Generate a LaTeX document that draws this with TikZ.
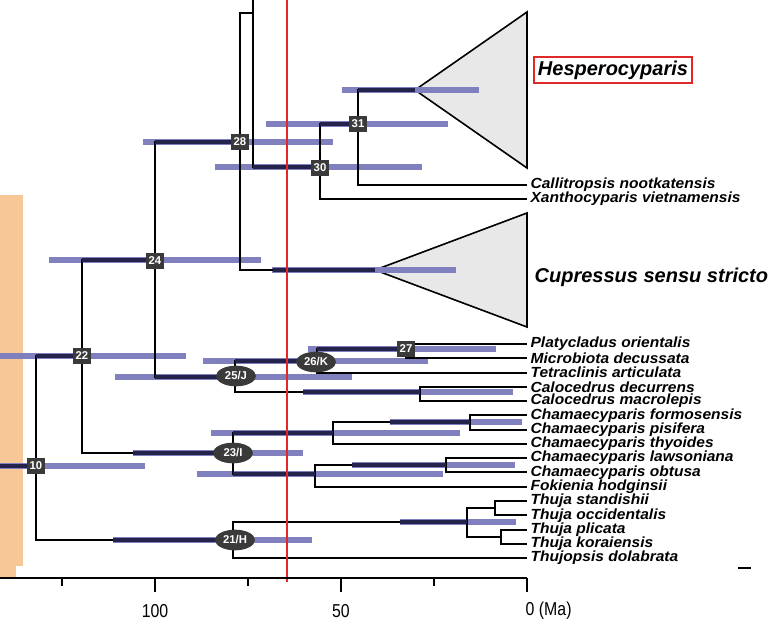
\documentclass[tikz,border=0pt]{standalone}
\usepackage{fontspec}
\setmainfont{Liberation Sans}
\newfontfamily\taxfont[FakeStretch=1.06]{Liberation Sans}
\newfontfamily\axfont[FakeStretch=0.85]{Liberation Sans}
\usetikzlibrary{shapes.geometric}
\definecolor{barc}{HTML}{8080BE}
\definecolor{darkc}{HTML}{23234C}
\definecolor{peach}{HTML}{F7C797}
\definecolor{redl}{HTML}{E02828}
\definecolor{tri}{HTML}{E8E8E8}
\definecolor{labc}{HTML}{3A3A3A}
\begin{document}
\begin{tikzpicture}[x=0.75pt,y=-0.75pt,
  branch/.style={line width=1.5pt,black},
  bar/.style={line width=4.5pt,barc},
  darkseg/.style={line width=3.6pt,darkc},
  sqlab/.style={fill=labc,text=white,font=\bfseries\fontsize{8.5}{8.5}\selectfont,inner sep=0pt,minimum width=13pt,minimum height=12.5pt},
  ellab/.style={ellipse,fill=labc,text=white,font=\bfseries\fontsize{8.5}{8.5}\selectfont,inner sep=0pt,minimum width=30pt,minimum height=15.5pt},
  taxon/.style={anchor=west,inner xsep=2.5pt,inner ysep=0pt,font=\taxfont\bfseries\itshape\fontsize{11}{11}\selectfont},
  big/.style={font=\bfseries\itshape\fontsize{15}{15}\selectfont},
  axisl/.style={line width=2.2pt,black},
  axtext/.style={font=\axfont\fontsize{14}{14}\selectfont}
]
\useasboundingbox (0,0) rectangle (772,625);
% background band
\fill[peach] (0,195) rectangle (23,566);
\fill[peach] (0,566) rectangle (16,578);

% node coordinates
\coordinate (root) at (0,466);
\coordinate (n10) at (36,466);
\coordinate (n22) at (82,356);
\coordinate (n21) at (233,540);
\coordinate (n24) at (155,260);
\coordinate (n23) at (233,453);
\coordinate (n28) at (240,142);
\coordinate (n25) at (235,377);
\coordinate (nT) at (253,13);
\coordinate (nTup) at (253,0);
\coordinate (cupA) at (375,270);
\coordinate (n30) at (320,167);
\coordinate (n31) at (358,124);
\coordinate (hesA) at (415,90);
\coordinate (n26) at (317,361);
\coordinate (nCalo) at (420,392);
\coordinate (n27) at (406,349);
\coordinate (nA) at (333,433);
\coordinate (nC) at (470,422);
\coordinate (nB) at (315,474);
\coordinate (nD) at (446,465);
\coordinate (nE) at (467,522);
\coordinate (nF) at (495,508);
\coordinate (nG) at (501,537);

% tip labels
\node[taxon] (tCal) at (527,184.5) {Callitropsis nootkatensis};
\node[taxon] (tXan) at (527,199) {Xanthocyparis vietnamensis};
\node[taxon] (tPla) at (527,344) {Platycladus orientalis};
\node[taxon] (tMic) at (527,358.3) {Microbiota decussata};
\node[taxon] (tTet) at (527,372.5) {Tetraclinis articulata};
\node[taxon] (tCd) at (527,386.8) {Calocedrus decurrens};
\node[taxon] (tCm) at (527,401) {Calocedrus macrolepis};
\node[taxon] (tChF) at (527,415.4) {Chamaecyparis formosensis};
\node[taxon] (tChP) at (527,429.6) {Chamaecyparis pisifera};
\node[taxon] (tChT) at (527,443.9) {Chamaecyparis thyoides};
\node[taxon] (tChL) at (527,458.2) {Chamaecyparis lawsoniana};
\node[taxon] (tChO) at (527,472.4) {Chamaecyparis obtusa};
\node[taxon] (tFok) at (527,486.7) {Fokienia hodginsii};
\node[taxon] (tThS) at (527,501) {Thuja standishii};
\node[taxon] (tThO) at (527,515.3) {Thuja occidentalis};
\node[taxon] (tThP) at (527,529.5) {Thuja plicata};
\node[taxon] (tThK) at (527,543.8) {Thuja koraiensis};
\node[taxon] (tThj) at (527,558) {Thujopsis dolabrata};

\node[big,draw=redl,line width=1.5pt,inner xsep=3pt,inner ysep=3pt] (tHes) at (613,70) {Hesperocyparis};
\node[big,anchor=west] (tCup) at (530,277) {Cupressus sensu stricto};

% collapsed clades
\draw[line width=1.2pt,fill=tri] (hesA) -- (527,12) -- (527,168) -- cycle;
\draw[line width=1.2pt,fill=tri] (cupA) -- (527,213) -- (527,327) -- cycle;

% age bars
\draw[bar] (0,466) -- (145,466);
\draw[bar] (0,356) -- (186,356);
\draw[bar] (49,260) -- (261,260);
\draw[bar] (143,142) -- (333,142);
\draw[bar] (215,167) -- (422,167);
\draw[bar] (266,124) -- (448,124);
\draw[bar] (342,90) -- (479,90);
\draw[bar] (272,270) -- (456,270);
\draw[bar] (115,377) -- (352,377);
\draw[bar] (203,361) -- (428,361);
\draw[bar] (308,349) -- (496,349);
\draw[bar] (303,392) -- (513,392);
\draw[bar] (133,453) -- (303,453);
\draw[bar] (211,433) -- (460,433);
\draw[bar] (390,422) -- (522,422);
\draw[bar] (197,474) -- (443,474);
\draw[bar] (352,465) -- (515,465);
\draw[bar] (113,540) -- (312,540);
\draw[bar] (400,522) -- (516,522);

% branches
\draw[branch] (root) -- (n10);
\draw[branch] (n10) |- (n22);
\draw[branch] (n10) |- (n21);
\draw[branch] (n22) |- (n24);
\draw[branch] (n22) |- (n23);
\draw[branch] (n24) |- (n28);
\draw[branch] (n24) |- (n25);
\draw[branch] (n28) |- (nT);
\draw[branch] (n28) |- (cupA);
\draw[branch] (nT) -- (nTup);
\draw[branch] (nT) |- (n30);
\draw[branch] (n30) |- (n31);
\draw[branch] (n30) |- (tXan.west);
\draw[branch] (n31) |- (hesA);
\draw[branch] (n31) |- (tCal.west);
\draw[branch] (n25) |- (n26);
\draw[branch] (n25) |- (nCalo);
\draw[branch] (n26) |- (n27);
\draw[branch] (n26) |- (tTet.west);
\draw[branch] (n27) |- (tPla.west);
\draw[branch] (n27) |- (tMic.west);
\draw[branch] (nCalo) |- (tCd.west);
\draw[branch] (nCalo) |- (tCm.west);
\draw[branch] (n23) |- (nA);
\draw[branch] (n23) |- (nB);
\draw[branch] (nA) |- (nC);
\draw[branch] (nA) |- (tChT.west);
\draw[branch] (nC) |- (tChF.west);
\draw[branch] (nC) |- (tChP.west);
\draw[branch] (nB) |- (nD);
\draw[branch] (nB) |- (tFok.west);
\draw[branch] (nD) |- (tChL.west);
\draw[branch] (nD) |- (tChO.west);
\draw[branch] (n21) |- (nE);
\draw[branch] (n21) |- (tThj.west);
\draw[branch] (nE) |- (nF);
\draw[branch] (nE) |- (nG);
\draw[branch] (nF) |- (tThS.west);
\draw[branch] (nF) |- (tThO.west);
\draw[branch] (nG) |- (tThP.west);
\draw[branch] (nG) |- (tThK.west);

% branch parts inside the bars
\draw[darkseg] (0,466) -- (n10);
\draw[darkseg] (36,356) -- (n22);
\draw[darkseg] (82,260) -- (n24);
\draw[darkseg] (155,142) -- (n28);
\draw[darkseg] (253,167) -- (n30);
\draw[darkseg] (320,124) -- (n31);
\draw[darkseg] (358,90) -- (hesA);
\draw[darkseg] (273,270) -- (cupA);
\draw[darkseg] (155,377) -- (n25);
\draw[darkseg] (235,361) -- (n26);
\draw[darkseg] (317,349) -- (n27);
\draw[darkseg] (303,392) -- (nCalo);
\draw[darkseg] (133,453) -- (n23);
\draw[darkseg] (233,433) -- (nA);
\draw[darkseg] (390,422) -- (nC);
\draw[darkseg] (233,474) -- (nB);
\draw[darkseg] (352,465) -- (nD);
\draw[darkseg] (113,540) -- (n21);
\draw[darkseg] (400,522) -- (nE);

% red time line
\draw[redl,line width=1.2pt] (287,0) -- (287,582);

% node labels
\node[sqlab] (l10) at (36,466) {10};
\node[sqlab] (l22) at (82,356) {22};
\node[sqlab] (l24) at (155,261) {24};
\node[sqlab] (l28) at (240,142) {28};
\node[sqlab] (l30) at (320,168) {30};
\node[sqlab] (l31) at (358,124) {31};
\node[sqlab] (l27) at (406,349) {27};
\node[ellab] (l25) at (236,376) {25/J};
\node[ellab] (l26) at (316,362) {26/K};
\node[ellab] (l23) at (233,453) {23/I};
\node[ellab] (l21) at (235,540) {21/H};

% time axis
\draw[axisl] (0,578) -- (527,578);
\foreach \x in {155,341,527} \draw[line width=1.8pt] (\x,578) -- (\x,592);
\foreach \x in {62,248,434} \draw[line width=1.8pt] (\x,578) -- (\x,586);
\node[axtext] (a100) at (155,611) {100};
\node[axtext] (a50) at (341,611) {50};
\node[axtext,anchor=west] (a0) at (521,611) {0 (Ma)};
\draw[line width=1.2pt] (738,568) -- (751,568);
\end{tikzpicture}
\end{document}
